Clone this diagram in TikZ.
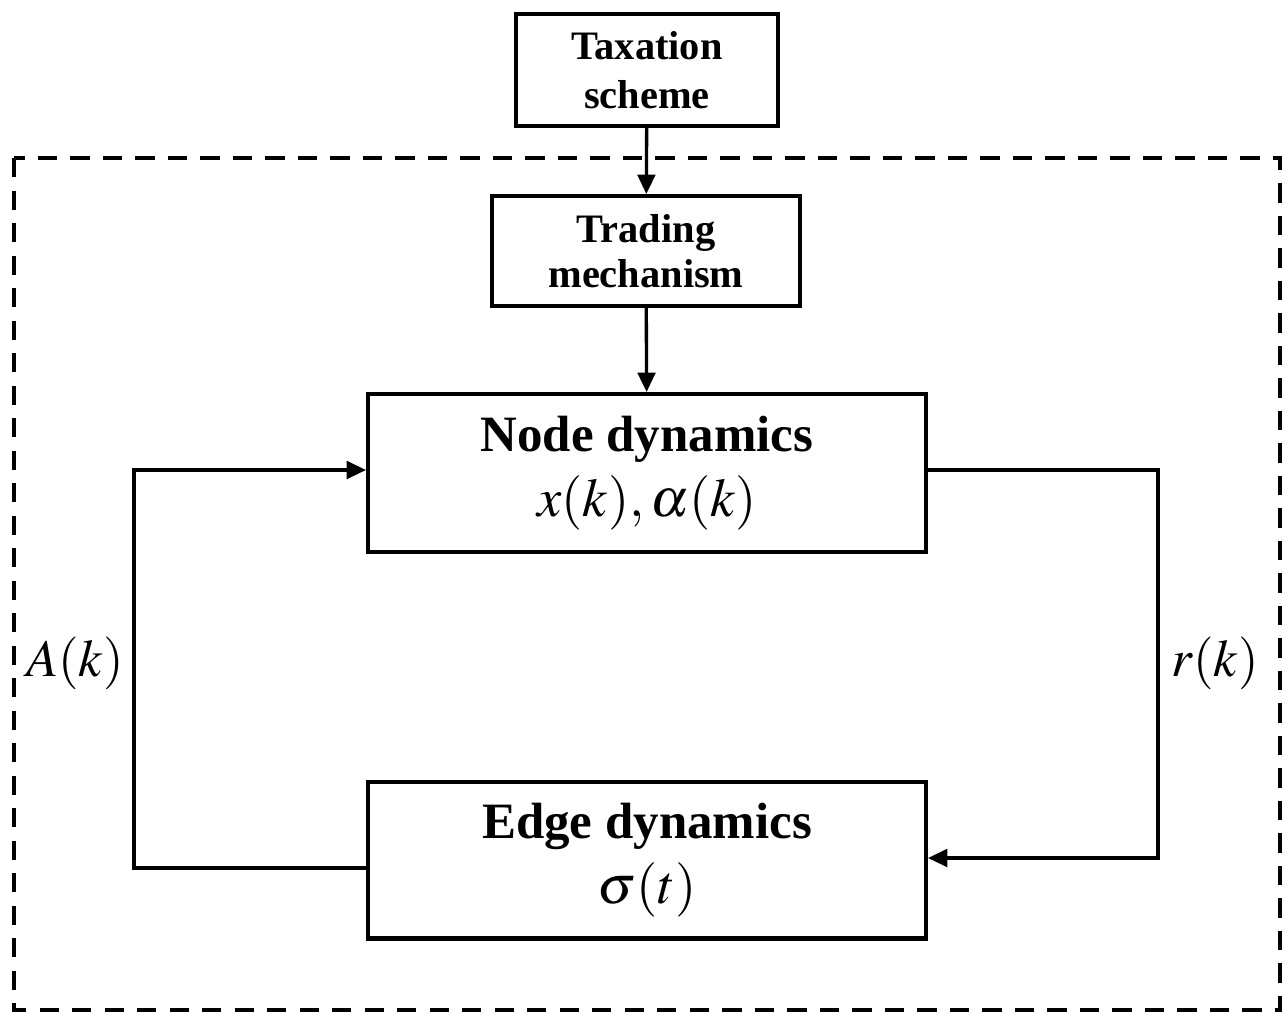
\documentclass[tikz,border=0pt]{standalone}
\usepackage{mathptmx}
\usepackage{fontspec}
\setmainfont{Liberation Serif}
\usetikzlibrary{arrows.meta}

\begin{document}
\begin{tikzpicture}[x=0.02cm,y=-0.02cm,
  box/.style={draw,line width=2.3pt,align=center,inner sep=0pt},
  arr/.style={line width=1.9pt,-{Triangle[length=11pt,width=10pt]}},
  lbl/.style={font=\fontsize{30}{34}\selectfont}]
\useasboundingbox (0,0) rectangle (1282,1012);
% outer dashed frame
\draw[line width=2.8pt,dash pattern=on 11pt off 7.5pt] (14,158) rectangle (1280,1010);
\draw (647,70) node[box,minimum width=5.24cm,minimum height=2.24cm,font=\bfseries\fontsize{23}{28}\selectfont](tax) {Taxation\\scheme};
\draw (646,251) node[box,minimum width=6.16cm,minimum height=2.2cm,font=\bfseries\fontsize{23}{25.5}\selectfont](trade) {Trading\\mechanism};
\draw (647,473) node[box,minimum width=11.16cm,minimum height=3.16cm,font=\fontsize{29}{30}\selectfont](nodedyn) {\textbf{Node dynamics}\\[7pt]{\fontsize{31}{30}\selectfont$x(k),\alpha(k)$}};
\draw (647,860) node[box,minimum width=11.16cm,minimum height=3.14cm,font=\fontsize{29}{30}\selectfont](edgedyn) {\textbf{Edge dynamics}\\[7pt]{\fontsize{31}{30}\selectfont$\sigma(t)$}};
\draw (75,663) node[lbl](lblA) {$A(k)$};
\draw (1215,663) node[lbl](lblr) {$r(k)$};
\draw[arr] (tax) -- (trade);
\draw[arr] (trade) -- (nodedyn);
\draw[arr] ([yshift=-0.16cm]edgedyn.west) -| (134,470) -- (nodedyn.west |- 134,470);
\draw[arr] (nodedyn.east |- 1158,470) -| (1158,858) -- (edgedyn.east |- 1158,858);
\end{tikzpicture}
\end{document}
